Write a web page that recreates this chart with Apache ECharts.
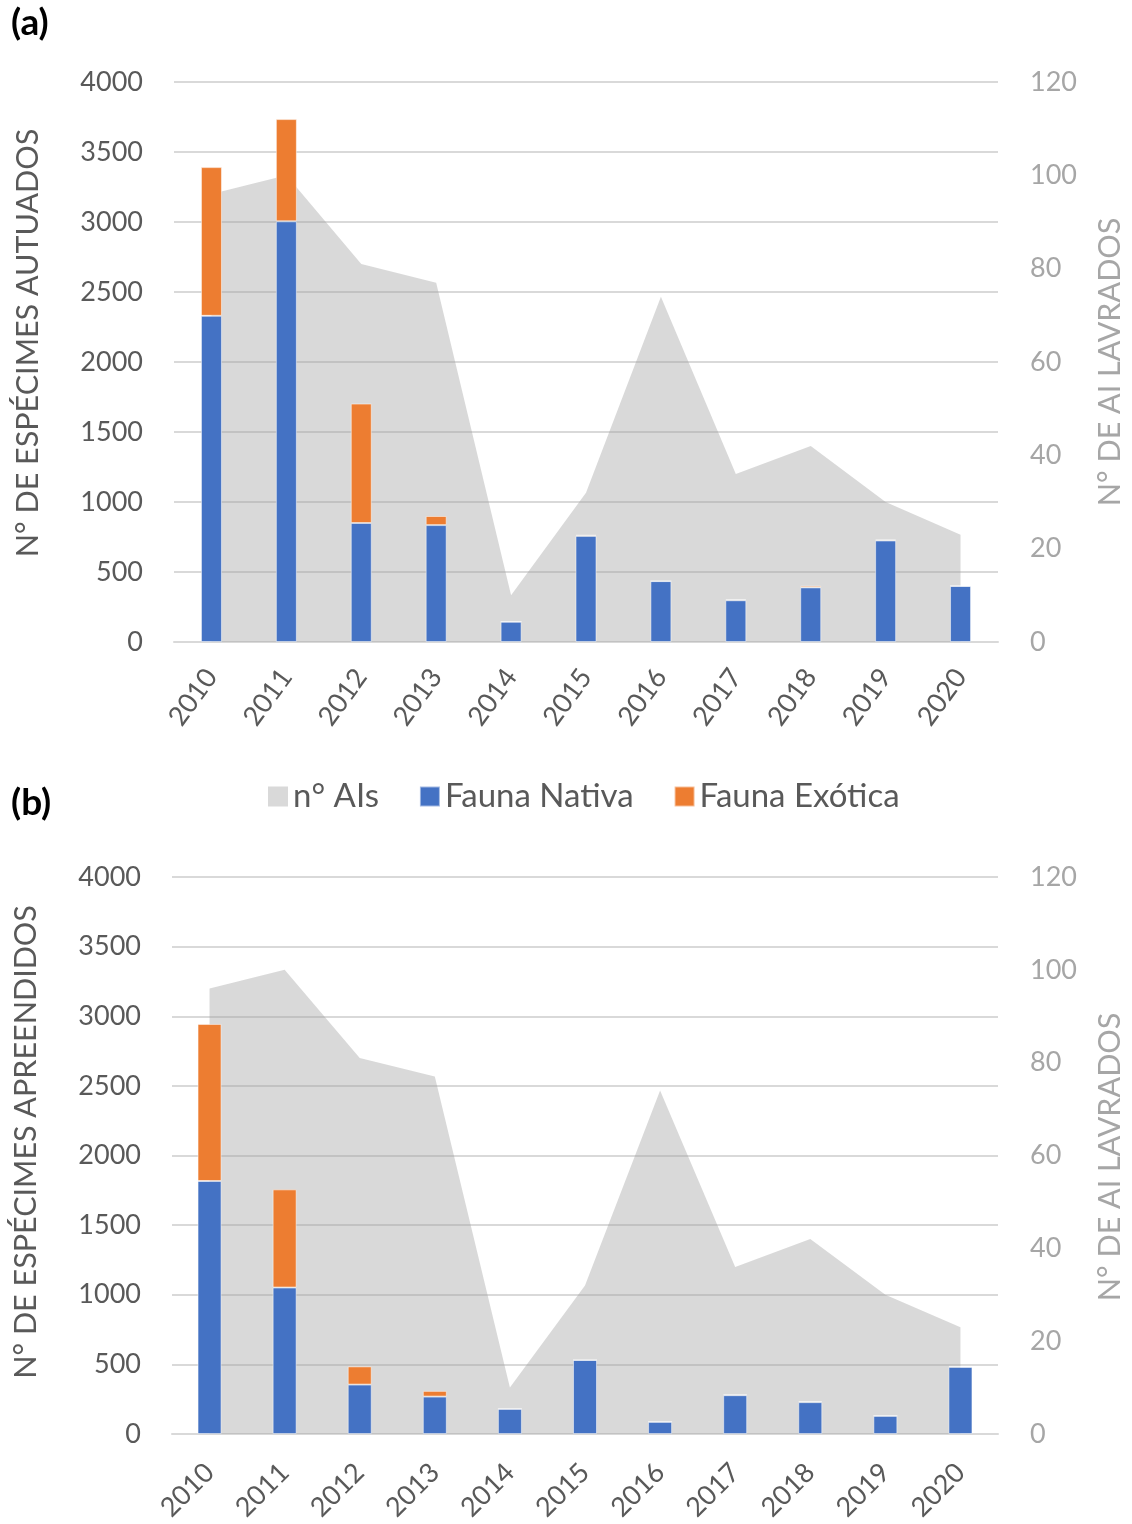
<!DOCTYPE html>
<html>
<head>
<meta charset="utf-8">
<script src="https://cdn.jsdelivr.net/npm/echarts@6/dist/echarts.min.js"></script>
<style>
  html, body { margin: 0; padding: 0; background: #fff; }
  #chart { width: 1132px; height: 1524px; }
</style>
</head>
<body>
<div id="chart"></div>
<script>
// Years shared by both panels
const years = ['2010', '2011', '2012', '2013', '2014', '2015', '2016', '2017', '2018', '2019', '2020'];

// Number of infraction notices (AI) issued per year (right axis)
const nAIs = [96, 100, 81, 77, 10, 32, 74, 36, 42, 30, 23];

// (a) specimens recorded in notices
const nativaAutuados = [2330, 3005, 850, 835, 145, 758, 435, 298, 390, 725, 400];
const exoticaAutuados = [1062, 730, 853, 65, 0, 8, 0, 7, 12, 7, 2];

// (b) specimens seized
const nativaApreendidos = [1817, 1052, 355, 269, 181, 532, 88, 279, 229, 131, 482];
const exoticaApreendidos = [1128, 705, 131, 41, 0, 0, 0, 5, 7, 0, 7];

// Axis ticks
const leftTicks = { min: 0, max: 4000, interval: 500 };
const rightTicks = { min: 0, max: 120, interval: 20 };

const FONT = 'Lato';
const DARK = '#595959';
const LIGHT = '#a6a6a6';
const BLUE = '#4472c4';
const ORANGE = '#ed7d31';
const GRID = '#d9d9d9';

const chart = echarts.init(document.getElementById('chart'), null, { renderer: 'canvas' });

function xAxisFor(gridIndex, rotate, margin) {
  return {
    type: 'category', gridIndex, data: years,
    axisLine: { lineStyle: { color: GRID, width: 2 } },
    axisTick: { show: false },
    axisLabel: { rotate, margin, color: DARK, fontFamily: FONT, fontSize: 27 }
  };
}
function leftAxisFor(gridIndex) {
  return {
    type: 'value', gridIndex, position: 'left', ...leftTicks,
    axisLine: { show: false }, axisTick: { show: false },
    axisLabel: { margin: 31, color: DARK, fontFamily: FONT, fontSize: 27, formatter: v => String(v) },
    splitLine: { lineStyle: { color: GRID, width: 2 } }
  };
}
function rightAxisFor(gridIndex) {
  return {
    type: 'value', gridIndex, position: 'right', ...rightTicks,
    axisLine: { show: false }, axisTick: { show: false },
    axisLabel: { margin: 32, color: LIGHT, fontFamily: FONT, fontSize: 27, formatter: v => String(v) },
    splitLine: { show: false }
  };
}
function areaSeries(idx) {
  return {
    name: 'n° AIs', type: 'line', xAxisIndex: idx, yAxisIndex: idx * 2 + 1,
    data: nAIs, showSymbol: false, symbol: 'none',
    lineStyle: { width: 0 }, itemStyle: { color: '#d9d9d9' },
    areaStyle: { color: 'rgba(160,160,160,0.4)', opacity: 1 }, z: 1
  };
}
function barSeries(name, data, idx, color, width) {
  return {
    name, type: 'bar', stack: 'fauna' + idx, xAxisIndex: idx, yAxisIndex: idx * 2,
    data, barWidth: width,
    itemStyle: { color, borderColor: 'rgba(255,255,255,0.5)', borderWidth: 1 }, z: 3
  };
}

const option = {
  backgroundColor: '#fff',
  animation: false,
  textStyle: { fontFamily: FONT },
  grid: [
    { left: 174, top: 82, width: 824, height: 560 },
    { left: 172, top: 877, width: 826, height: 559 }
  ],
  xAxis: [xAxisFor(0, 54, 30), xAxisFor(1, 45, 34)],
  yAxis: [leftAxisFor(0), rightAxisFor(0), leftAxisFor(1), rightAxisFor(1)],
  legend: {
    left: 263, top: 775, itemWidth: 20, itemHeight: 20, itemGap: 40,
    icon: 'rect',
    textStyle: { color: DARK, fontFamily: FONT, fontSize: 33, padding: 0 },
    data: ['n° AIs', 'Fauna Nativa', 'Fauna Exótica']
  },
  series: [
    areaSeries(0),
    barSeries('Fauna Nativa', nativaAutuados, 0, BLUE, 21),
    barSeries('Fauna Exótica', exoticaAutuados, 0, ORANGE, 21),
    areaSeries(1),
    barSeries('Fauna Nativa', nativaApreendidos, 1, BLUE, 24),
    barSeries('Fauna Exótica', exoticaApreendidos, 1, ORANGE, 24)
  ],
  graphic: [
    { type: 'text', left: 11, top: 5, style: { text: '(a)', font: 'bold 37px ' + FONT, fill: '#000' } },
    { type: 'text', left: 11, top: 785, style: { text: '(b)', font: 'bold 37px ' + FONT, fill: '#000' } },
    { type: 'text', x: 28, y: 343, rotation: Math.PI / 2,
      style: { text: 'N° DE ESPÉCIMES AUTUADOS', font: '30.5px ' + FONT, fill: DARK, align: 'center', verticalAlign: 'middle' } },
    { type: 'text', x: 1110, y: 362, rotation: Math.PI / 2,
      style: { text: 'N° DE AI LAVRADOS', font: '30.5px ' + FONT, fill: LIGHT, align: 'center', verticalAlign: 'middle' } },
    { type: 'text', x: 26, y: 1142, rotation: Math.PI / 2,
      style: { text: 'N° DE ESPÉCIMES APREENDIDOS', font: '30.5px ' + FONT, fill: DARK, align: 'center', verticalAlign: 'middle' } },
    { type: 'text', x: 1110, y: 1157, rotation: Math.PI / 2,
      style: { text: 'N° DE AI LAVRADOS', font: '30.5px ' + FONT, fill: LIGHT, align: 'center', verticalAlign: 'middle' } }
  ]
};

chart.setOption(option);
</script>
</body>
</html>
